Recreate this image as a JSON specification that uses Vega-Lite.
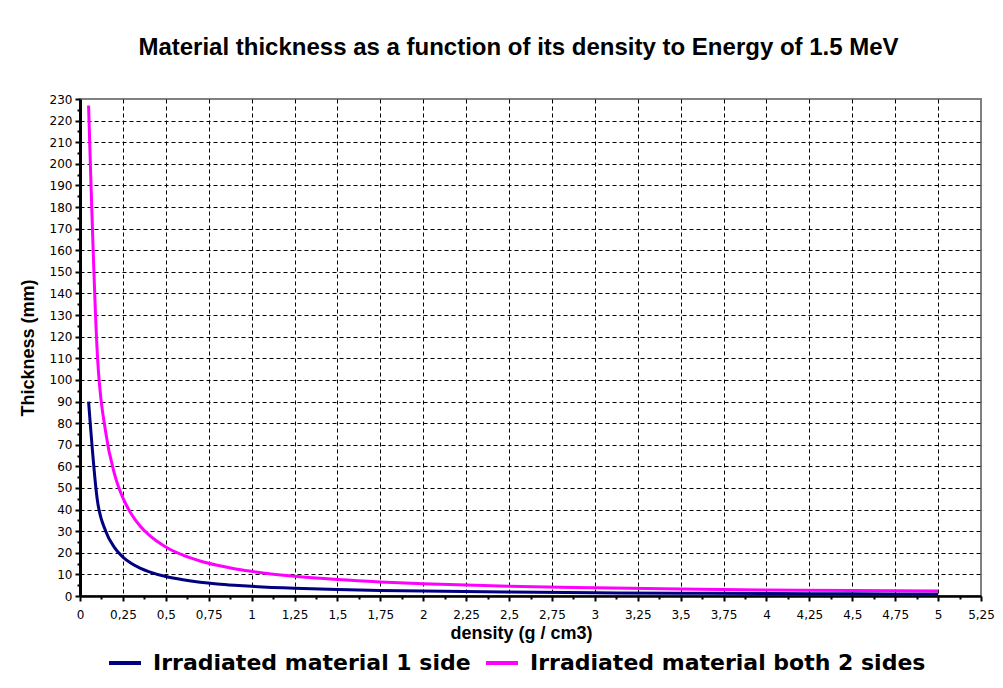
{
  "$schema": "https://vega.github.io/schema/vega-lite/v6.json",
  "width": 901,
  "height": 497,
  "autosize": {"type": "none"},
  "padding": {"left": 80, "top": 99, "right": 22, "bottom": 92},
  "background": "white",
  "title": {
    "text": "Material thickness  as a function of its density  to Energy of 1.5 MeV",
    "font": "Liberation Sans",
    "fontSize": 24,
    "fontWeight": "bold",
    "color": "black",
    "anchor": "middle",
    "frame": "group",
    "offset": 33,
    "dx": -12
  },
  "data": {
    "values": [
      {"density": 0.05, "Irradiated material 1 side": 90, "Irradiated material both 2 sides": 227},
      {"density": 0.1, "Irradiated material 1 side": 45, "Irradiated material both 2 sides": 113.5},
      {"density": 0.15, "Irradiated material 1 side": 30, "Irradiated material both 2 sides": 75.7},
      {"density": 0.2, "Irradiated material 1 side": 22.5, "Irradiated material both 2 sides": 56.8},
      {"density": 0.25, "Irradiated material 1 side": 18, "Irradiated material both 2 sides": 45.4},
      {"density": 0.3, "Irradiated material 1 side": 15, "Irradiated material both 2 sides": 37.8},
      {"density": 0.35, "Irradiated material 1 side": 12.9, "Irradiated material both 2 sides": 32.4},
      {"density": 0.4, "Irradiated material 1 side": 11.3, "Irradiated material both 2 sides": 28.4},
      {"density": 0.5, "Irradiated material 1 side": 9, "Irradiated material both 2 sides": 22.7},
      {"density": 0.6, "Irradiated material 1 side": 7.5, "Irradiated material both 2 sides": 18.9},
      {"density": 0.7, "Irradiated material 1 side": 6.4, "Irradiated material both 2 sides": 16.2},
      {"density": 0.8, "Irradiated material 1 side": 5.6, "Irradiated material both 2 sides": 14.2},
      {"density": 0.9, "Irradiated material 1 side": 5, "Irradiated material both 2 sides": 12.6},
      {"density": 1, "Irradiated material 1 side": 4.5, "Irradiated material both 2 sides": 11.4},
      {"density": 1.25, "Irradiated material 1 side": 3.6, "Irradiated material both 2 sides": 9.1},
      {"density": 1.5, "Irradiated material 1 side": 3, "Irradiated material both 2 sides": 7.6},
      {"density": 1.75, "Irradiated material 1 side": 2.6, "Irradiated material both 2 sides": 6.5},
      {"density": 2, "Irradiated material 1 side": 2.3, "Irradiated material both 2 sides": 5.7},
      {"density": 2.5, "Irradiated material 1 side": 1.8, "Irradiated material both 2 sides": 4.5},
      {"density": 3, "Irradiated material 1 side": 1.5, "Irradiated material both 2 sides": 3.8},
      {"density": 3.5, "Irradiated material 1 side": 1.3, "Irradiated material both 2 sides": 3.2},
      {"density": 4, "Irradiated material 1 side": 1.1, "Irradiated material both 2 sides": 2.8},
      {"density": 4.5, "Irradiated material 1 side": 1, "Irradiated material both 2 sides": 2.5},
      {"density": 5, "Irradiated material 1 side": 0.9, "Irradiated material both 2 sides": 2.3}
    ]
  },
  "transform": [
    {"fold": ["Irradiated material 1 side", "Irradiated material both 2 sides"], "as": ["series", "thickness"]}
  ],
  "mark": {"type": "line", "interpolate": "monotone", "strokeWidth": 3},
  "encoding": {
    "x": {
      "field": "density",
      "type": "quantitative",
      "scale": {"domain": [0, 5.25], "nice": false, "zero": false},
      "axis": {
        "values": [0,0.125,0.25,0.375,0.5,0.625,0.75,0.875,1,1.125,1.25,1.375,1.5,1.625,1.75,1.875,2,2.125,2.25,2.375,2.5,2.625,2.75,2.875,3,3.125,3.25,3.375,3.5,3.625,3.75,3.875,4,4.125,4.25,4.375,4.5,4.625,4.75,4.875,5,5.125,5.25],
        "labelExpr": "(round(datum.value*4) == datum.value*4) ? replace(format(datum.value, '.2~f'), '.', ',') : ''",
        "labelFont": "DejaVu Sans",
        "labelFontSize": 12,
        "labelColor": "black",
        "labelOverlap": false,
        "labelFlush": false,
        "labelPadding": 8,
        "tickColor": "black",
        "tickWidth": 2,
        "tickSize": {"condition": {"test": "round(datum.value*4) == datum.value*4", "value": 5}, "value": 3},
        "grid": true,
        "gridColor": "black",
        "gridDash": [4, 3],
        "gridWidth": 1,
        "gridOpacity": {"condition": {"test": "round(datum.value*4) == datum.value*4 && datum.value > 0 && datum.value < 5.25", "value": 1}, "value": 0},
        "domainColor": "black",
        "domainWidth": 2.5,
        "title": "density (g / cm3)",
        "titleFont": "Liberation Sans",
        "titleFontSize": 18,
        "titleFontWeight": "bold",
        "titleColor": "black",
        "titlePadding": 4,
        "titleX": 441
      }
    },
    "y": {
      "field": "thickness",
      "type": "quantitative",
      "scale": {"domain": [0, 230], "nice": false},
      "axis": {
        "values": [0,5,10,15,20,25,30,35,40,45,50,55,60,65,70,75,80,85,90,95,100,105,110,115,120,125,130,135,140,145,150,155,160,165,170,175,180,185,190,195,200,205,210,215,220,225,230],
        "labelExpr": "(datum.value % 10 == 0) ? datum.label : ''",
        "labelFont": "DejaVu Sans",
        "labelFontSize": 12,
        "labelColor": "black",
        "labelOverlap": false,
        "labelFlush": false,
        "labelPadding": 3,
        "tickColor": "black",
        "tickWidth": 2,
        "tickSize": {"condition": {"test": "datum.value % 10 == 0", "value": 5}, "value": 3},
        "grid": true,
        "gridColor": "black",
        "gridDash": [4, 3],
        "gridWidth": 1,
        "gridOpacity": {"condition": {"test": "datum.value % 10 == 0 && datum.value > 0 && datum.value < 230", "value": 1}, "value": 0},
        "domainColor": "black",
        "domainWidth": 3,
        "title": "Thickness (mm)",
        "titleFont": "Liberation Sans",
        "titleFontSize": 18,
        "titleFontWeight": "bold",
        "titleColor": "black",
        "titlePadding": 12
      }
    },
    "color": {
      "field": "series",
      "type": "nominal",
      "scale": {"domain": ["Irradiated material 1 side", "Irradiated material both 2 sides"], "range": ["#000080", "#FF00FF"]},
      "legend": {
        "orient": "none",
        "legendX": 27,
        "legendY": 546,
        "direction": "horizontal",
        "title": null,
        "symbolType": "stroke",
        "symbolSize": 1024,
        "symbolStrokeWidth": 4,
        "labelFont": "DejaVu Sans",
        "labelFontSize": 22,
        "labelFontWeight": "bold",
        "labelColor": "black",
        "labelOffset": 10,
        "labelLimit": 600,
        "columnPadding": 7,
        "padding": 0
      }
    }
  },
  "config": {
    "view": {"stroke": "#808080", "strokeWidth": 2}
  }
}
